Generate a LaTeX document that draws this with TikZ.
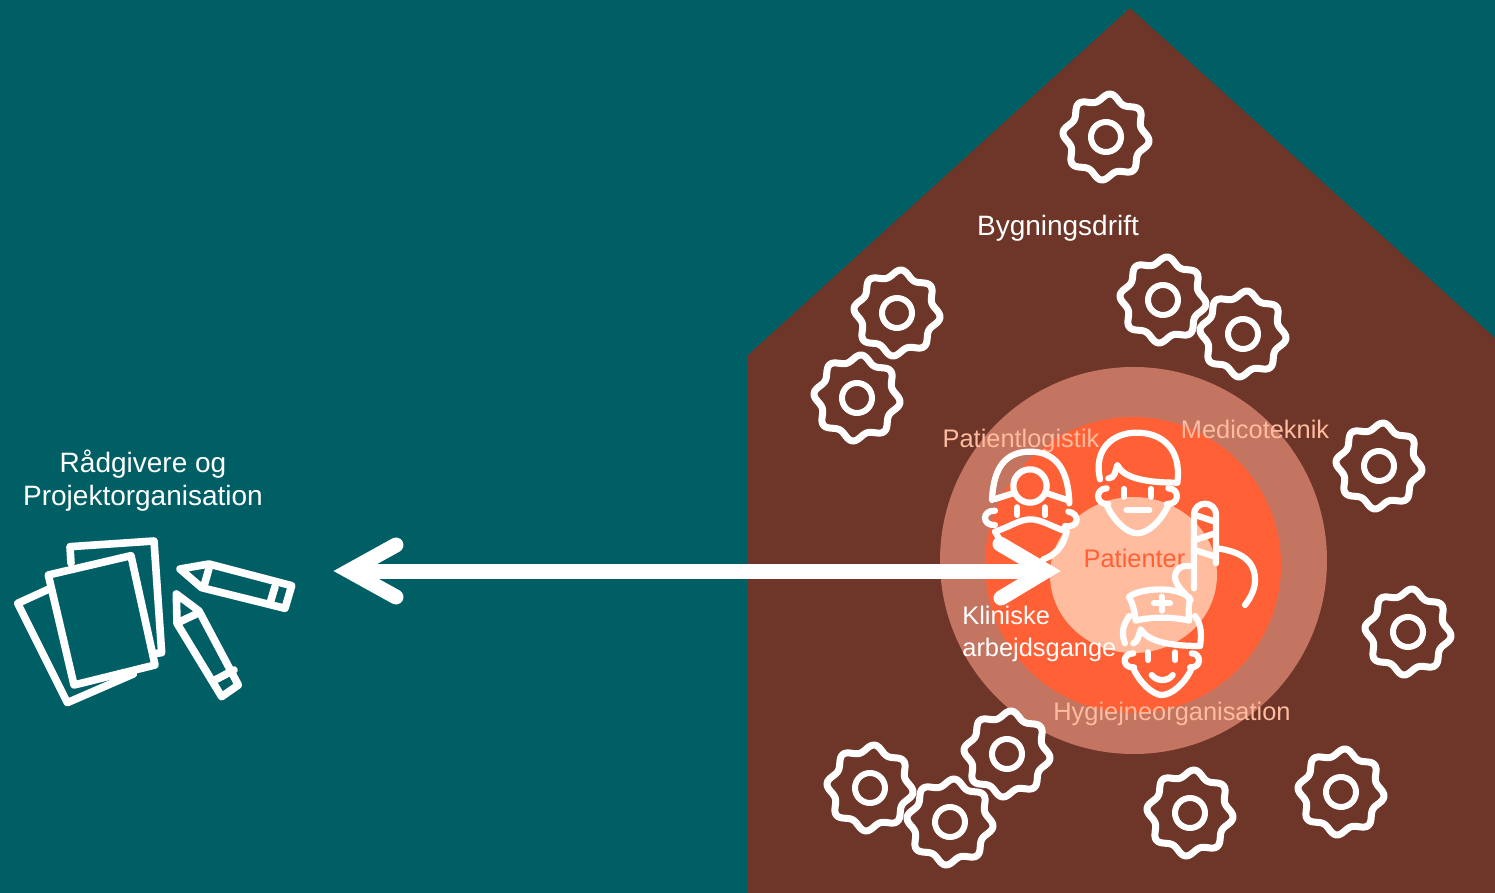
\documentclass[tikz,border=0pt]{standalone}
\usepackage{fontspec}
\setmainfont{Liberation Sans}
\usetikzlibrary{calc}
\definecolor{tealback}{RGB}{0,95,101}
\definecolor{housebrown}{RGB}{110,54,41}
\definecolor{ringouter}{RGB}{195,117,98}
\definecolor{ringmiddle}{RGB}{255,96,54}
\definecolor{ringinner}{RGB}{255,188,159}
\tikzset{
  gearicon/.pic={
    \draw[white,line width=3.5pt,line join=round] plot[domain=0:360,samples=161,smooth] ({(39.5+3.5*cos(8*(\x-6))+0.2*cos(16*(\x-6)))*cos(\x)},{(39.5+3.5*cos(8*(\x-6))+0.2*cos(16*(\x-6)))*sin(\x)}) -- cycle;
    \draw[white,line width=3pt] (0,0) circle (15);
  }
}
\begin{document}
\begin{tikzpicture}[x=0.5pt,y=-0.5pt]
      \tikzstyle{labelbig}=[inner sep=0pt,font=\fontsize{14}{16.5}\selectfont]
      \tikzstyle{labelring}=[inner sep=0pt,font=\fontsize{12.7}{16}\selectfont]
      \tikzstyle{icon}=[white,line width=3.1pt,line cap=round,line join=round]
      \tikzstyle{sheet}=[white,line width=3.8pt,line cap=round,line join=round]
      \tikzstyle{bigarrow}=[white,line width=7.5pt]
      \tikzstyle{barb}=[white,line width=7.5pt,line cap=round,miter limit=10]
      \fill[tealback] (0,0) rectangle (1495,893);
      \useasboundingbox (0,0) rectangle (1495,893);
      %%% House
      \fill[housebrown] (748,893) -- (748,355) -- (1130,8) -- (1495,338) -- (1495,893) -- cycle;
      %%% Rings
      \fill[ringouter] (1133.5,560.5) circle (193.5);
      \fill[ringmiddle] (1133,565) circle (148);
      \fill[ringinner] (1133.5,575) ellipse (83.5 and 78);
      %%% Gears
      \pic (gear1) at (1106,137) {gearicon};
      \pic (gear2) at (897,313) {gearicon};
      \pic (gear3) at (857,398) {gearicon};
      \pic (gear4) at (1163,300) {gearicon};
      \pic (gear5) at (1243,334) {gearicon};
      \pic (gear6) at (1379,466) {gearicon};
      \pic (gear7) at (1408,632) {gearicon};
      \pic (gear8) at (1007,754) {gearicon};
      \pic (gear9) at (870,788) {gearicon};
      \pic (gear10) at (950,822) {gearicon};
      \pic (gear11) at (1190,813) {gearicon};
      \pic (gear12) at (1341,792) {gearicon};
      %%% Labels
      \node (drift) at (1058,228) [labelbig,white] {Bygningsdrift};
      \node (logistik) at (1021,441) [labelring,ringinner] {Patientlogistik};
      \node (medico) at (1255,429) [labelring,ringinner] {Medicoteknik};
      \node (hygiejne) at (1172,714) [labelring,ringinner] {Hygiejneorganisation};
      \node (patienter) at (1134.5,558) [labelring,ringmiddle] {Patienter};
      \node (raad) at (143,481) [labelbig,white,align=center] {Rådgivere og\\Projektorganisation};
      %%% People, traced on a 3x grid
      \begin{scope}[shift={(930,400)},x=0.16667pt,y=-0.16667pt]
        % doctor
        \draw[icon] (300,258) circle (50);
        \draw[icon] (186,300) .. controls (190,205) and (225,155) .. (300,155) .. controls (375,155) and (415,205) .. (418,310);
        \draw[icon] (195,297) -- (255,278);
        \draw[icon] (345,278) -- (412,300);
        \draw[icon] (195,332) .. controls (155,330) and (155,378) .. (195,375);
        \draw[icon] (415,335) .. controls (450,340) and (450,385) .. (405,378);
        \draw[icon] (262,322) -- (262,345);
        \draw[icon] (345,322) -- (345,345);
        \draw[icon] (195,395) .. controls (240,380) and (270,358) .. (300,358) .. controls (335,358) and (365,380) .. (410,395);
        \draw[icon] (195,395) -- (225,445);
        \draw[icon] (410,395) .. controls (400,440) and (375,465) .. (340,478);
        % patient
        \draw[icon] (510,238) .. controls (490,150) and (545,98) .. (620,98) .. controls (700,98) and (755,150) .. (742,248);
        \draw[icon] (535,235) .. controls (555,235) and (555,215) .. (562,195) .. controls (580,235) and (650,248) .. (742,248);
        \draw[icon] (530,265) .. controls (495,265) and (495,315) .. (535,312);
        \draw[icon] (715,265) .. controls (750,265) and (750,315) .. (710,312);
        \draw[icon] (582,267) -- (582,290);
        \draw[icon] (663,267) -- (663,290);
        \draw[icon] (590,330) -- (658,330);
        \draw[icon] (530,315) .. controls (550,360) and (590,400) .. (622,400) .. controls (655,400) and (695,360) .. (715,315);
        % nurse
        \draw[icon] (597,590) .. controls (630,565) and (740,555) .. (780,595) .. controls (775,620) and (775,640) .. (778,662) .. controls (730,650) and (660,650) .. (617,662) .. controls (615,640) and (610,615) .. (597,590) -- cycle;
        \draw[icon] (695,590) -- (695,632);
        \draw[icon] (672,610) -- (720,610);
        \draw[icon] (598,648) .. controls (575,680) and (575,705) .. (585,730);
        \draw[icon] (610,730) .. controls (625,725) and (625,705) .. (632,688) .. controls (655,725) and (720,738) .. (810,738);
        \draw[icon] (795,648) .. controls (815,675) and (815,705) .. (810,738);
        \draw[icon] (610,760) .. controls (575,760) and (575,805) .. (612,802);
        \draw[icon] (785,760) .. controls (815,760) and (815,805) .. (780,802);
        \draw[icon] (655,757) -- (655,780);
        \draw[icon] (735,757) -- (735,780);
        \draw[icon] (665,825) .. controls (680,845) and (715,845) .. (728,825);
        \draw[icon] (610,805) .. controls (630,850) and (670,885) .. (695,885) .. controls (725,885) and (765,850) .. (785,805);
        % hand
        \draw[icon] (792,565) -- (792,345) .. controls (792,300) and (858,300) .. (858,345) -- (858,490);
        \draw[icon] (795,345) -- (855,365);
        \draw[icon] (795,420) -- (855,400);
        \draw[icon] (795,450) -- (855,470);
        \draw[icon] (862,445) .. controls (930,455) and (975,480) .. (975,540) .. controls (975,570) and (960,595) .. (945,615);
        \draw[icon] (780,498) .. controls (750,495) and (735,510) .. (735,530) .. controls (735,555) and (760,575) .. (782,600);
      \end{scope}
      %%% Papers and pencils, traced on a 3x grid
      \begin{scope}[shift={(0,520)},x=0.16667pt,y=-0.16667pt]
        \draw[sheet] (213,130) -- (210,80) -- (462,63) -- (485,398) -- (470,400);
        \draw[sheet] (145,165) -- (393,107) -- (465,435) -- (222,495) -- cycle;
        \draw[sheet] (145,208) -- (53,250) -- (202,548) -- (400,462);
        \draw[sheet] (540,147) -- (627,132) -- (875,197) -- (855,265) -- (605,203) -- cycle;
        \draw[sheet] (627,145) -- (612,198);
        \draw[sheet] (825,200) -- (810,250);
        \draw[sheet] (529,222) -- (597,273) -- (715,495) -- (665,530) -- (531,310) -- cycle;
        \draw[sheet] (540,305) -- (597,278);
        \draw[sheet] (645,480) -- (702,450);
      \end{scope}
      %%% Arrow
      \coordinate (arrowleft) at (349,571);
      \coordinate (arrowright) at (1046,571);
      \coordinate (leftup) at (396,545);
      \coordinate (leftdown) at (396,597);
      \coordinate (rightup) at (1000,544);
      \coordinate (rightdown) at (1001,598);
      \draw[bigarrow] (arrowleft) -- (arrowright);
      \draw[barb] (leftup) -- (arrowleft) -- (leftdown);
      \draw[barb] (rightup) -- (arrowright) -- (rightdown);
      \node (klinik) at (962,634) [labelring,white,anchor=west,align=left] {Kliniske\\arbejdsgange};
\end{tikzpicture}
\end{document}
